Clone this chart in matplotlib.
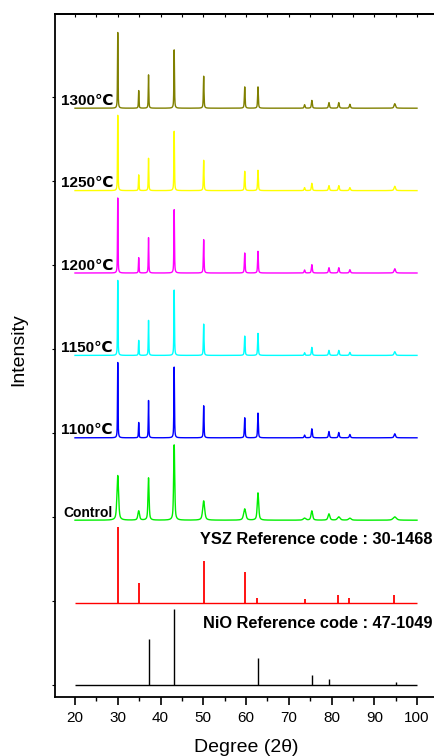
import numpy as np
import matplotlib
matplotlib.use('Agg')
import matplotlib.pyplot as plt
from matplotlib.ticker import MultipleLocator

# ---------------- data ----------------
peak_pos = [30.0, 34.9, 37.2, 43.2, 50.1, 59.7, 62.8, 73.7, 75.4, 79.4, 81.7, 84.3, 94.8]

h_1300 = [75.7, 17.6, 33.3, 58.3, 32.0, 21.3, 21.3, 3.5, 7.8, 5.6, 5.6, 3.9, 4.5]
h_1250 = [75.3, 15.7, 32.3, 59.3, 30.3, 19.3, 20.3, 3.0, 7.3, 5.0, 5.0, 3.0, 4.3]
h_1200 = [75.0, 15.3, 35.3, 63.3, 33.3, 20.0, 21.7, 3.0, 8.3, 5.3, 5.3, 3.3, 4.3]
h_1150 = [75.0, 15.0, 35.0, 65.3, 31.3, 19.3, 22.0, 2.7, 8.0, 5.0, 5.0, 3.0, 3.7]
h_1100 = [75.3, 15.3, 37.3, 70.7, 32.0, 20.0, 24.7, 2.7, 9.0, 6.3, 5.3, 3.3, 4.0]
h_control = [44.7, 9.3, 42.3, 75.3, 19.3, 11.3, 27.3, 2.0, 9.3, 6.3, 3.3, 2.0, 3.3]

fwhm_sintered = [0.14, 0.15, 0.15, 0.16, 0.18, 0.20, 0.20, 0.25, 0.25, 0.28, 0.28, 0.30, 0.40]
fwhm_control = [0.45, 0.45, 0.30, 0.30, 0.55, 0.60, 0.40, 0.70, 0.45, 0.50, 0.70, 0.70, 0.90]

ysz_pos = [30.0, 34.9, 50.1, 59.7, 62.5, 73.7, 81.6, 84.2, 94.6]
ysz_h = [76.0, 19.3, 42.0, 31.0, 5.0, 4.0, 8.0, 5.0, 8.0]

nio_pos = [37.2, 43.2, 62.8, 75.4, 79.4, 95.1]
nio_h = [46.0, 75.7, 26.7, 9.7, 6.0, 3.0]

sample_labels = ['Control', '1100\u2103', '1150\u2103', '1200\u2103', '1250\u2103', '1300\u2103']
sample_heights = [h_control, h_1100, h_1150, h_1200, h_1250, h_1300]
sample_widths = [fwhm_control, fwhm_sintered, fwhm_sintered, fwhm_sintered, fwhm_sintered, fwhm_sintered]
sample_colors = ['#00EE00', '#0000FF', '#00FFFF', '#FF00FF', '#FFFF00', '#808000']

ysz_label = 'YSZ Reference code : 30-1468'
nio_label = 'NiO Reference code : 47-1049'

x_ticks = [20, 30, 40, 50, 60, 70, 80, 90, 100]

# ---------------- drawing ----------------
plt.rcParams['font.family'] = ['Liberation Sans', 'DejaVu Sans']

def pseudo_voigt(x, c, w, eta=0.6):
    g = np.exp(-4 * np.log(2) * ((x - c) / w) ** 2)
    l = 1.0 / (1.0 + 4 * ((x - c) / w) ** 2)
    return eta * l + (1 - eta) * g

x = np.linspace(20, 100, 8001)
step = 82.4

fig = plt.figure(figsize=(4.34, 7.56), dpi=100)
ax = fig.add_axes([55 / 434, 59 / 756, 382 / 434, 683 / 756])

# NiO reference sticks (offset 0)
off = 0.0
ax.hlines(off, 20, 100, color='black', lw=1.0)
ax.vlines(nio_pos, off, [off + h for h in nio_h], color='black', lw=1.0)

# YSZ reference sticks
off = step
ax.hlines(off, 20, 100, color='#FF0000', lw=1.0)
ax.vlines(ysz_pos, off, [off + h for h in ysz_h], color='#FF0000', lw=1.3)

# measured patterns
for i, (lab, hs, ws, col) in enumerate(zip(sample_labels, sample_heights, sample_widths, sample_colors)):
    off = step * (i + 2)
    y = np.zeros_like(x)
    for c, h, w in zip(peak_pos, hs, ws):
        y += h * pseudo_voigt(x, c, w)
    ax.plot(x, y + off, color=col, lw=1.0)
    fs = 10 if lab == 'Control' else 11
    ax.text(28.9, off + 3.5, lab, ha='right', va='baseline', fontsize=fs, fontweight='bold')

ax.text(103.6, 146, ysz_label, ha='right', va='center', fontsize=11.8, fontweight='bold')
ax.text(103.6, 62, nio_label, ha='right', va='center', fontsize=11.8, fontweight='bold')

ax.set_xlim(20 - 20 / 4.275, 20 - 20 / 4.275 + 382 / 4.275)
ax.set_ylim(-12, 671)

ax.set_xticks(x_ticks)
ax.set_xticklabels([str(t) for t in x_ticks])
ax.xaxis.set_minor_locator(MultipleLocator(5))
ax.tick_params(axis='x', which='major', direction='out', length=6, width=1.2, labelsize=11, pad=4)
ax.tick_params(axis='x', which='minor', direction='out', length=3, width=1.0)
ax.set_yticks(np.arange(8) * 84)
ax.set_yticklabels([])
ax.tick_params(axis='y', which='major', direction='out', length=2.5, width=0.8, left=True, right=False)

sec = ax.secondary_xaxis('top')
sec.set_xticks(x_ticks)
sec.xaxis.set_minor_locator(MultipleLocator(5))
sec.tick_params(axis='x', which='both', direction='in', length=2, width=0.8, labeltop=False)
sec.set_xticklabels([])
sec.spines['top'].set_linewidth(1.3)

for s in ['left', 'bottom', 'top']:
    ax.spines[s].set_linewidth(1.3)
ax.spines['right'].set_visible(False)

fig.text(19 / 434, 1 - 350 / 756, 'Intensity', rotation=90, ha='center', va='center', fontsize=14)
fig.text(246 / 434, 1 - 747 / 756, 'Degree (2\u03b8)', ha='center', va='center', fontsize=14)

fig.savefig('out.png', dpi=100)
